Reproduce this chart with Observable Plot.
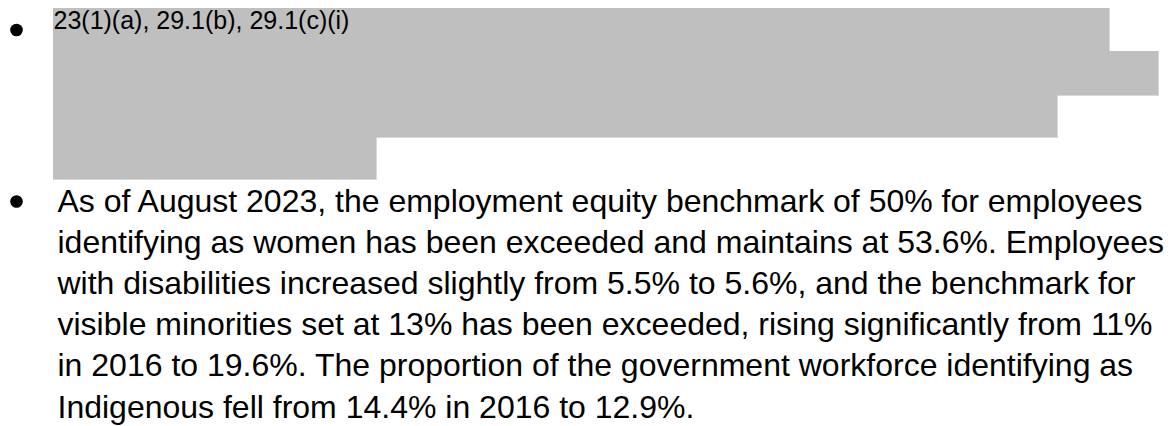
<!DOCTYPE html>
<html>
<head>
<meta charset="utf-8">
<script src="https://cdn.jsdelivr.net/npm/d3@7"></script>
<script src="https://cdn.jsdelivr.net/npm/@observablehq/plot@0.6"></script>
<style>
  html, body { margin: 0; padding: 0; background: #ffffff; }
  #chart svg { display: block; }
</style>
</head>
<body>
<div id="chart"></div>
<script>
// ---- Content (data) ----
const redactedCitation = ["23(1)(a), 29.1(b), 29.1(c)(i)"];
// right-hand extent of each redacted (grey) row, in page units
const redactionRowEnds = [1109, 1158, 1057, 376];
// horizontal boundaries between redacted rows, in page units
const redactionRowEdges = [8, 51, 95, 137, 179];
const paragraphLines = [
  "As of August 2023, the employment equity benchmark of 50% for employees",
  "identifying as women has been exceeded and maintains at 53.6%. Employees",
  "with disabilities increased slightly from 5.5% to 5.6%, and the benchmark for",
  "visible minorities set at 13% has been exceeded, rising significantly from 11%",
  "in 2016 to 19.6%. The proportion of the government workforce identifying as",
  "Indigenous fell from 14.4% in 2016 to 12.9%."
];
const bulletItems = ["citation", "paragraph"];

// ---- Layout ----
const W = 1173, H = 426;
const textLeft = 53, paraLeft = 57;
const paraBase = 211, paraStep = 41.2;
const citeBase = 28;
const bulletX = 16, bulletYs = [29.5, 201];

const redactionRows = redactionRowEnds.map((end, i) => ({
  x1: textLeft, x2: end, y1: redactionRowEdges[i], y2: redactionRowEdges[i + 1]
}));
const paraRows = paragraphLines.map((t, i) => ({text: t, x: paraLeft, y: paraBase + i * paraStep}));
const bullets = bulletItems.map((b, i) => ({x: bulletX, y: bulletYs[i]}));

const font = "'Liberation Sans', Arial, Helvetica, sans-serif";

const chart = Plot.plot({
  width: W,
  height: H,
  margin: 0,
  style: {background: "#ffffff", fontFamily: font, color: "#000"},
  x: {domain: [0, W], range: [0, W], axis: null},
  y: {domain: [0, H], range: [0, H], axis: null},
  marks: [
    Plot.rect(redactionRows, {
      x1: "x1", x2: "x2", y1: "y1", y2: "y2",
      fill: "#bfbfbf", stroke: "#bfbfbf", strokeWidth: 0.6, shapeRendering: "crispEdges"
    }),
    Plot.text(redactedCitation, {
      x: () => textLeft, y: () => citeBase, text: d => d,
      textAnchor: "start", lineAnchor: "bottom", fontSize: 25, fill: "#000", fontFamily: font
    }),
    Plot.text(paraRows, {
      x: "x", y: "y", text: "text",
      textAnchor: "start", lineAnchor: "bottom", fontSize: 32, fill: "#000", fontFamily: font
    }),
    Plot.dot(bullets, {x: "x", y: "y", r: 6.3, fill: "#000", stroke: null})
  ]
});
document.getElementById("chart").appendChild(chart);
</script>
</body>
</html>
